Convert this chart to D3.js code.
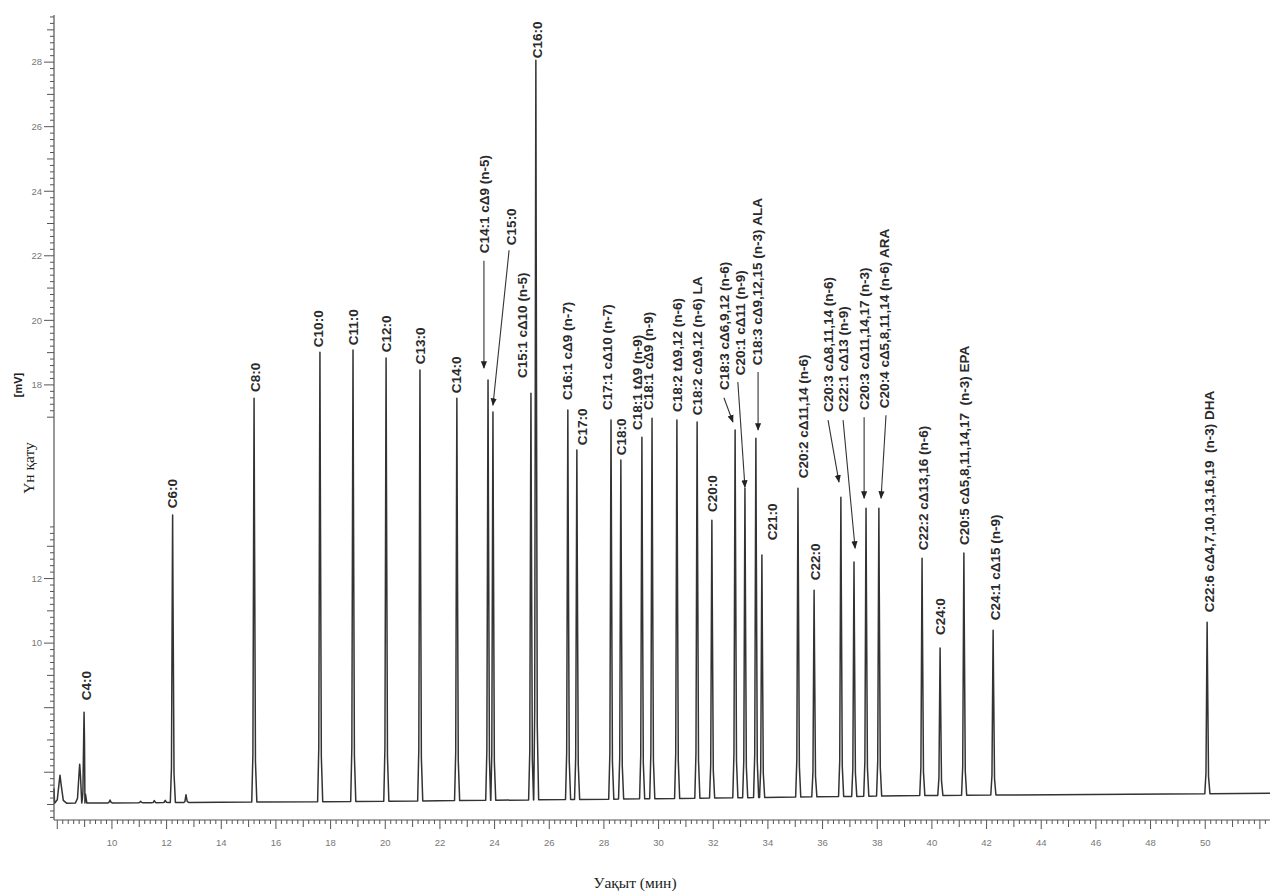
<!DOCTYPE html>
<html><head><meta charset="utf-8">
<script src="https://cdn.jsdelivr.net/npm/d3@7/dist/d3.min.js"></script>
<style>
html,body{margin:0;padding:0;background:#fff;}
svg{display:block;}
.lbl{font-family:"Liberation Sans",Arial,sans-serif;font-size:13.5px;font-weight:bold;fill:#2a2a2a;white-space:pre;}
.tick{font-family:"Liberation Sans",Arial,sans-serif;font-size:9.5px;fill:#777;}
.title{font-family:"Liberation Serif","Times New Roman",serif;font-size:15.5px;fill:#222;}
</style></head>
<body><svg id="c" width="1270" height="894"></svg>
<script>
// ---- data (retention time in min, signal in mV) ----
const peakNames = ["C4:0","C6:0","C8:0","C10:0","C11:0","C12:0","C13:0","C14:0",
 "C14:1 cΔ9 (n-5)","C15:0","C15:1 cΔ10 (n-5)","C16:0","C16:1 cΔ9 (n-7)","C17:0",
 "C17:1 cΔ10 (n-7)","C18:0","C18:1 tΔ9 (n-9)","C18:1 cΔ9 (n-9)","C18:2 tΔ9,12 (n-6)",
 "C18:2 cΔ9,12 (n-6) LA","C20:0","C18:3 cΔ6,9,12 (n-6)","C20:1 cΔ11 (n-9)",
 "C18:3 cΔ9,12,15 (n-3) ALA","C21:0","C20:2 cΔ11,14 (n-6)","C22:0","C20:3 cΔ8,11,14 (n-6)",
 "C22:1 cΔ13 (n-9)","C20:3 cΔ11,14,17 (n-3)","C20:4 cΔ5,8,11,14 (n-6) ARA",
 "C22:2 cΔ13,16 (n-6)","C24:0","C20:5 cΔ5,8,11,14,17  (n-3) EPA","C24:1 cΔ15 (n-9)",
 "C22:6 cΔ4,7,10,13,16,19  (n-3) DHA"];
const peakTimes = [8.98,12.22,15.20,17.61,18.82,20.03,21.27,22.62,23.76,23.94,25.33,25.51,26.68,27.01,
 28.26,28.62,29.39,29.76,30.67,31.41,31.95,32.80,33.16,33.56,33.78,35.10,35.69,36.67,37.15,37.59,38.06,
 39.64,40.30,41.17,42.24,50.07];
const peakHeights = [7.86,13.97,17.59,19.01,19.08,18.83,18.46,17.59,18.15,17.16,17.74,28.06,17.22,15.98,
 16.91,15.67,16.38,16.97,16.91,16.85,13.81,16.60,14.80,16.35,12.73,14.80,11.64,14.52,12.51,14.18,14.18,
 12.63,9.85,12.79,10.40,10.65];
// label anchor (bottom of rotated text), in data units
const labelTimes = [9.05,12.20,15.23,17.54,18.82,20.03,21.27,22.59,23.61,24.60,25.00,25.55,26.65,27.20,
 28.11,28.62,29.21,29.61,30.67,31.41,31.95,32.39,32.98,33.60,34.15,35.28,35.72,36.20,36.75,37.52,38.25,
 39.67,40.30,41.17,42.31,50.14];
const labelValues = [8.23,14.18,17.78,19.17,19.23,19.01,18.64,17.74,22.08,22.33,18.21,28.12,17.53,16.13,
 17.22,15.82,16.60,17.22,17.16,17.06,14.06,17.84,18.30,18.61,13.19,15.11,11.95,17.16,17.16,17.22,17.28,
 12.88,10.25,13.04,10.71,10.96];
// leader arrows: [peak index, startT, startV, endT, endV]
const arrowPeaks = [8,9,21,22,23,27,28,29,30];
const arrowStartT = [23.61,24.53,32.39,32.90,33.64,36.20,36.75,37.52,38.32];
const arrowStartV = [21.85,22.17,17.60,18.09,18.40,16.91,16.91,17.00,17.06];
const arrowEndT   = [23.61,23.94,32.72,33.16,33.64,36.60,37.19,37.52,38.14];
const arrowEndV   = [18.52,17.37,16.85,14.83,16.60,14.99,12.94,14.49,14.49];
// small unlabeled features
const minorTimes   = [8.10,8.82,9.93,11.05,11.55,11.95,12.71];
const minorHeights = [5.91,6.25,5.14,5.10,5.12,5.13,5.30];
const minorWidths  = [0.20,0.16,0.08,0.08,0.08,0.08,0.08];
// baseline drift
const baselineT = [7.88,12,20,30,40,52.37];
const baselineV = [5.04,5.06,5.10,5.18,5.28,5.35];
// axes
const xTickLabels = [10,12,14,16,18,20,22,24,26,28,30,32,34,36,38,40,42,44,46,48,50];
const yTickLabels = [10,12,18,20,22,24,26,28];

// ---- drawing ----
const svg = d3.select("#c");
const x = d3.scaleLinear().domain([7.88,52.37]).range([54,1270]);
const y = d3.scaleLinear().domain([4.52,29.46]).range([820,15]);
const base = d3.scaleLinear().domain(baselineT).range(baselineV);

// assemble trace points
const feats = [];
peakTimes.forEach((t,i)=>feats.push({t:t,h:peakHeights[i],w:0.085}));
minorTimes.forEach((t,i)=>feats.push({t:t,h:minorHeights[i],w:minorWidths[i]}));
feats.sort((a,b)=>a.t-b.t);
const pts = [[7.88, 5.5]];
feats.forEach(f=>{
  const b = base(f.t);
  pts.push([f.t-f.w, b]);
  pts.push([f.t-f.w*0.5, b+(f.h-b)*0.12]);
  pts.push([f.t-f.w*0.15, b+(f.h-b)*0.75]);
  pts.push([f.t, f.h]);
  pts.push([f.t+f.w*0.18, b+(f.h-b)*0.7]);
  pts.push([f.t+f.w*0.6, b+(f.h-b)*0.1]);
  pts.push([f.t+f.w*1.2, b]);
});
pts.push([52.37, base(52.37)]);
pts.sort((a,b)=>a[0]-b[0]);

const line = d3.line().x(d=>x(d[0])).y(d=>y(d[1]));
svg.append("path").attr("d",line(pts)).attr("fill","none")
  .attr("stroke","#333").attr("stroke-width",1.5).attr("stroke-linejoin","round");

// axes lines
svg.append("line").attr("x1",x(7.88)).attr("x2",x(7.88)).attr("y1",y(29.46)).attr("y2",y(4.52))
  .attr("stroke","#555").attr("stroke-width",1.2);
svg.append("line").attr("x1",x(7.88)).attr("x2",x(52.37)).attr("y1",y(4.52)).attr("y2",y(4.52))
  .attr("stroke","#555").attr("stroke-width",1.2);

// x ticks
const xt = d3.range(40, 262).map(v=>v/5);
svg.append("g").selectAll("line").data(xt).join("line")
  .attr("x1",d=>x(d)).attr("x2",d=>x(d)).attr("y1",y(4.52))
  .attr("y2",d=>{const r=Math.round(d*5); return y(4.52)+(r%10===0?9:(r%5===0?7:4));})
  .attr("stroke","#555").attr("stroke-width",1);
svg.append("g").selectAll("text").data(xTickLabels).join("text").attr("class","tick")
  .attr("x",d=>x(d)).attr("y",y(4.52)+26).attr("text-anchor","middle").text(d=>d);

// y ticks
const yt = d3.range(23,148).map(v=>v/5).filter(v=>v<=13.61||v>=16.99);
svg.append("g").selectAll("line").data(yt).join("line")
  .attr("y1",d=>y(d)).attr("y2",d=>y(d)).attr("x1",x(7.88))
  .attr("x2",d=>{const r=Math.round(d*5); return x(7.88)-(r%10===0?10:(r%5===0?7:4));})
  .attr("stroke","#555").attr("stroke-width",1);
svg.append("g").selectAll("text").data(yTickLabels).join("text").attr("class","tick")
  .attr("x",x(7.88)-12).attr("y",d=>y(d)).attr("dy","0.35em").attr("text-anchor","end").text(d=>d);

// arrows
const defs = svg.append("defs");
defs.append("marker").attr("id","ah").attr("viewBox","0 0 10 10").attr("refX",9).attr("refY",5)
  .attr("markerWidth",7).attr("markerHeight",7).attr("orient","auto")
  .append("path").attr("d","M0,1 L10,5 L0,9 Z").attr("fill","#222");
svg.append("g").selectAll("line").data(arrowPeaks).join("line")
  .attr("x1",(d,i)=>x(arrowStartT[i])).attr("y1",(d,i)=>y(arrowStartV[i]))
  .attr("x2",(d,i)=>x(arrowEndT[i])).attr("y2",(d,i)=>y(arrowEndV[i]))
  .attr("stroke","#333").attr("stroke-width",1.1).attr("marker-end","url(#ah)");

// peak labels
svg.append("g").selectAll("text").data(peakNames).join("text").attr("class","lbl")
  .attr("transform",(d,i)=>`translate(${x(labelTimes[i])},${y(labelValues[i])}) rotate(-90)`)
  .attr("dy","0.35em").text(d=>d);

// titles
svg.append("text").attr("class","title").attr("x",635).attr("y",888).attr("text-anchor","middle").text("Уақыт (мин)");
svg.append("text").attr("class","title").attr("transform","translate(34,468) rotate(-90)")
  .attr("text-anchor","middle").text("Үн қату");
svg.append("text").attr("transform","translate(18,385) rotate(-90)").attr("text-anchor","middle")
  .attr("dy","0.35em").style("font-family","Liberation Sans, Arial, sans-serif").style("font-size","11px")
  .style("font-weight","bold").attr("fill","#222").text("[mV]");
</script></body></html>
